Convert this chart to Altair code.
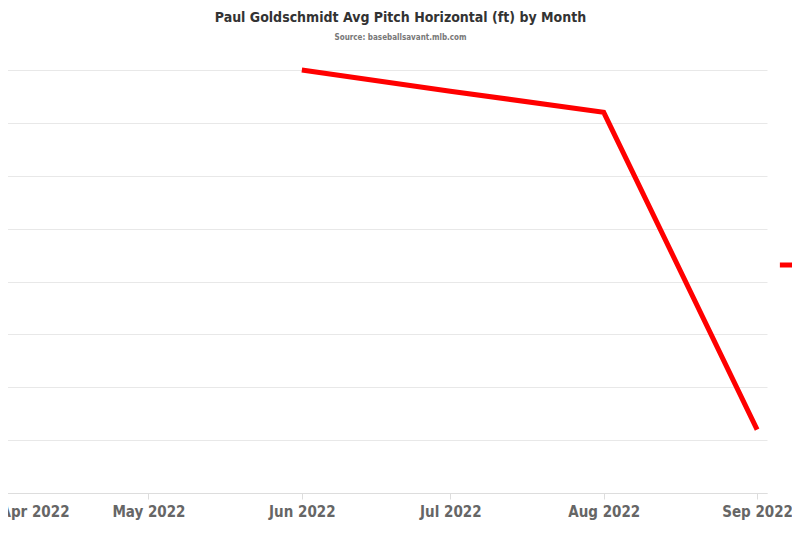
import altair as alt
import pandas as pd

months = ["2022-04-01", "2022-05-01", "2022-06-01", "2022-07-01", "2022-08-01", "2022-09-01"]
values = [0.06, None, 0.40, 0.38, 0.36, 0.06]
series = "Paul Goldschmidt"

df = pd.DataFrame({"month": months, "value": values, "player": series})
isolated = []
for i, v in enumerate(values):
    prev_ok = i > 0 and values[i - 1] is not None
    next_ok = i < len(values) - 1 and values[i + 1] is not None
    isolated.append(v is not None and not prev_ok and not next_ok)
df["isolated"] = isolated

FONT = "DejaVu Sans Condensed"
RED = "#ff0000"

x_enc = alt.X(
    "month:T",
    scale=alt.Scale(
        type="utc",
        domain=[alt.DateTime(year=2022, month=4, date=1, utc=True),
                alt.DateTime(year=2022, month=9, date=3, utc=True)],
    ),
    axis=alt.Axis(
        title=None, format="%b %Y", tickCount="month", grid=False,
        labelFont=FONT, labelFontSize=15, labelFontWeight="bold", labelColor="#666666",
        labelPadding=5, domainColor="#dddddd", tickColor="#dddddd", tickSize=6,
        labelOverlap=False,
    ),
)
y_enc = alt.Y(
    "value:Q",
    scale=alt.Scale(domain=[0, 0.4], nice=False, zero=False),
    axis=alt.Axis(
        title=None, labels=False, ticks=False, domain=False,
        values=[0, 0.05, 0.1, 0.15, 0.2, 0.25, 0.3, 0.35, 0.4],
        gridColor="#e8e8e8", gridWidth=1,
    ),
)
color_enc = alt.Color(
    "player:N",
    scale=alt.Scale(domain=[series], range=[RED]),
    legend=alt.Legend(
        title=None, orient="none", legendX=777, legendY=186,
        symbolType="stroke", symbolStrokeWidth=5, symbolSize=150,
        labelFont=FONT, labelFontSize=16, labelFontWeight="bold", labelColor="#333333",
    ),
)

line = alt.Chart(df).mark_line(strokeWidth=5, invalid="break-paths-show-domains").encode(
    x=x_enc, y=y_enc, color=color_enc
)
pts = alt.Chart(df).transform_filter("datum.isolated").mark_circle(size=25, opacity=1).encode(
    x=x_enc, y=y_enc, color=alt.Color("player:N", scale=alt.Scale(domain=[series], range=[RED]), legend=None)
)

chart = alt.layer(line, pts).properties(
    width=767,
    height=423,
    autosize=alt.AutoSizeParams(type="none"),
    padding={"left": -8, "top": 62, "right": 25, "bottom": 32},
    title=alt.TitleParams(
        text="Paul Goldschmidt Avg Pitch Horizontal (ft) by Month",
        subtitle="Source: baseballsavant.mlb.com",
        anchor="middle", dx=17, offset=18,
        font=FONT, fontSize=14, fontWeight="bold", color="#333333",
        subtitleFont=FONT, subtitleFontSize=8, subtitleFontWeight="bold",
        subtitleColor="#777777", subtitlePadding=9,
    ),
).configure_view(stroke=None)

chart.save("out.html", embed_options={"renderer": "svg", "actions": False})
